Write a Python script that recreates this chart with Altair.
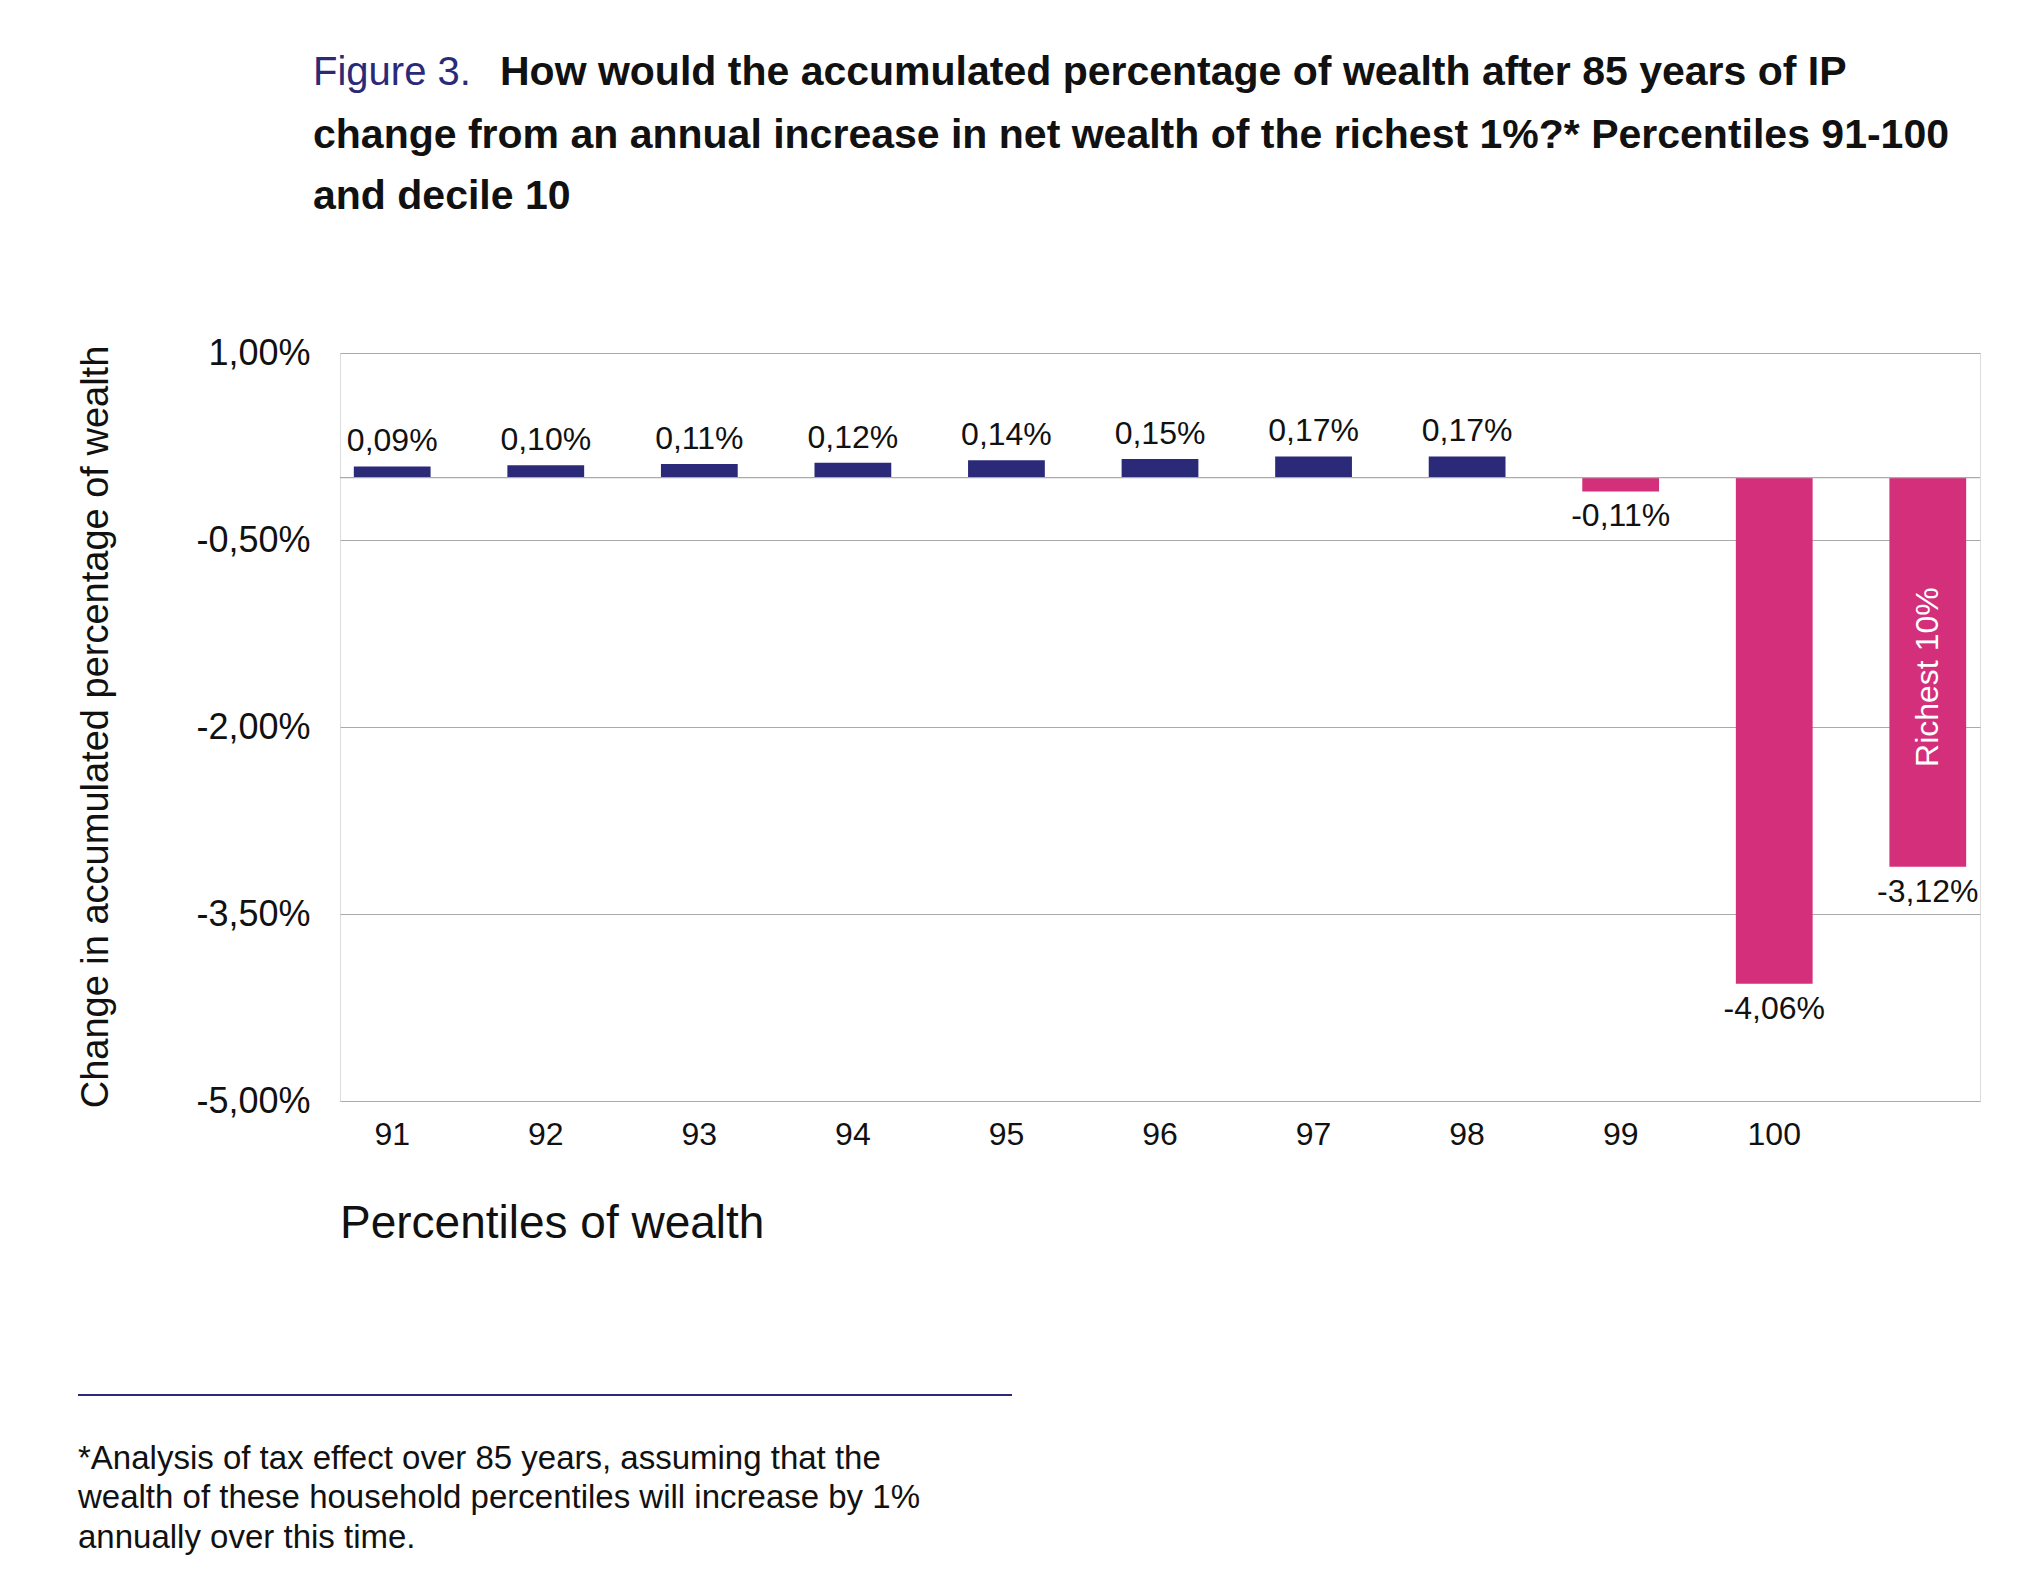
import altair as alt
import pandas as pd

categories = ["91", "92", "93", "94", "95", "96", "97", "98", "99", "100", "D10"]
values = [0.09, 0.10, 0.11, 0.12, 0.14, 0.15, 0.17, 0.17, -0.11, -4.06, -3.12]
labels = ["0,09%", "0,10%", "0,11%", "0,12%", "0,14%", "0,15%", "0,17%", "0,17%", "-0,11%", "-4,06%", "-3,12%"]

NAVY = "#2b2a78"
PINK = "#d42f7b"
FONT = "Liberation Sans"

df = pd.DataFrame({"cat": categories, "val": values, "lab": labels})

x = alt.X("cat:N", sort=categories, title=None,
          scale=alt.Scale(paddingInner=0.5, paddingOuter=0.09),
          axis=alt.Axis(labelExpr="datum.value == 'D10' ? '' : datum.value", labelAngle=0,
                        labelFontSize=32, labelFont=FONT, labelColor="#111", labelPadding=18,
                        domain=False, ticks=False, grid=False))
y = alt.Y("val:Q", title=None,
          scale=alt.Scale(domain=[-5, 1], nice=False),
          axis=alt.Axis(values=[1, -0.5, -2, -3.5, -5],
                        labelExpr="replace(replace(format(datum.value, '.2f'), '.', ','), '\u2212', '-') + '%'",
                        labelFontSize=36, labelFont=FONT, labelColor="#111", labelPadding=30,
                        domain=False, ticks=False, gridColor="#aaaaaa", gridWidth=1.2))

base = alt.Chart(df)
bars = base.mark_bar().encode(
    x=x, y=y, y2=alt.datum(0),
    color=alt.condition("datum.val >= 0", alt.value(NAVY), alt.value(PINK)),
)
zero = alt.Chart(pd.DataFrame({"z": [0]})).mark_rule(color="#aaaaaa", strokeWidth=1.2).encode(y=alt.Y("z:Q"))
pos_lab = base.transform_filter("datum.val >= 0").mark_text(
    baseline="bottom", dy=-8, fontSize=32, font=FONT, color="#111").encode(x=x, y=y, text="lab:N")
neg_lab = base.transform_filter("datum.val < 0").mark_text(
    baseline="top", dy=10, fontSize=32, font=FONT, color="#111").encode(x=x, y=y, text="lab:N")
inside = alt.Chart(pd.DataFrame({"cat": ["D10"], "v": [-1.6], "t": ["Richest 10%"]})).mark_text(
    angle=270, fontSize=32, font=FONT, color="white").encode(
    x=alt.X("cat:N", sort=categories), y=alt.Y("v:Q"), text="t:N")

def txt(s, xv, yv, size, weight="normal", color="#111", angle=0, align="left"):
    return alt.Chart(pd.DataFrame({"t": [s]})).mark_text(
        align=align, baseline="alphabetic", fontSize=size, fontWeight=weight,
        font=FONT, color=color, angle=angle).encode(
        x=alt.value(xv), y=alt.value(yv), text="t:N")

annot = [
    txt("Figure 3.", -27, -268, 40, color=NAVY),
    txt("How would the accumulated percentage of wealth after 85 years of IP", 160, -268, 41, "bold"),
    txt("change from an annual increase in net wealth of the richest 1%?* Percentiles 91-100", -27, -205, 41, "bold"),
    txt("and decile 10", -27, -144, 41, "bold"),
    txt("Change in accumulated percentage of wealth", -232, 374, 38, angle=270, align="center"),
    txt("Percentiles of wealth", 0, 885, 46),
    txt("*Analysis of tax effect over 85 years, assuming that the", -262, 1116, 33),
    txt("wealth of these household percentiles will increase by 1%", -262, 1155, 33),
    txt("annually over this time.", -262, 1195, 33),
]
rule = alt.Chart(pd.DataFrame({"a": [0]})).mark_rule(color=NAVY, strokeWidth=2).encode(
    x=alt.value(-262), x2=alt.value(672), y=alt.value(1042))

chart = alt.layer(bars, zero, pos_lab, neg_lab, inside, rule, *annot).properties(
    width=1640, height=748, autosize=alt.AutoSizeParams(type="none"),
    padding={"left": 332, "top": 345, "right": 40, "bottom": 480},
).configure_view(strokeWidth=0).configure(background="white")

chart.save("out.html", embed_options={"renderer": "svg", "actions": False})
